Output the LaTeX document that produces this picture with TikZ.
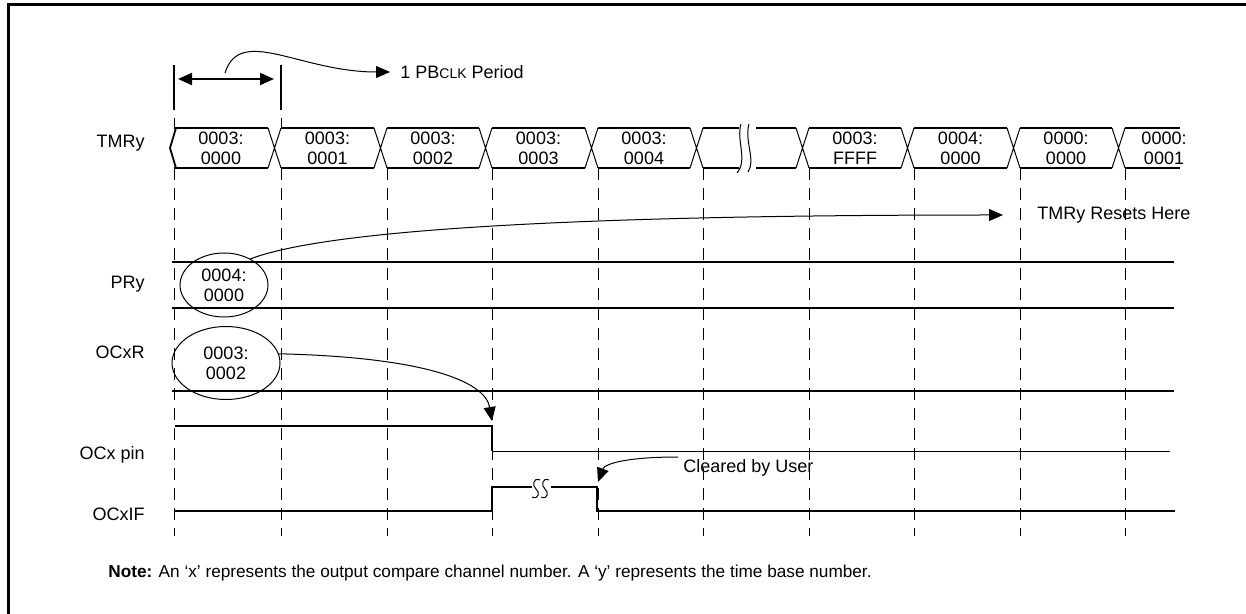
\documentclass[tikz,border=0pt]{standalone}
\usepackage{fontspec}
\setmainfont{Liberation Sans}
\usetikzlibrary{arrows.meta,shapes.geometric}

\begin{document}
\begin{tikzpicture}[x=0.5pt,y=-0.5pt,>={Triangle[length=7pt,width=6pt]},font=\fontsize{9}{10}\selectfont]
\tikzset{
 lbl/.style={anchor=east,inner sep=0pt},
 txt/.style={anchor=west,inner sep=0pt},
 val/.style={align=center,inner sep=0pt},
 sig/.style={line width=1pt},
 bus/.style={line width=0.9pt},
 grid/.style={dash pattern=on 6pt off 4pt,line width=0.5pt},
 oval/.style={draw,ellipse,inner sep=0pt,outer sep=0pt,align=center,line width=0.5pt},
 a/.style={->,line width=0.5pt}
}
\useasboundingbox (0,0) rectangle (1246,614);
% frame
\draw[line width=1.5pt] (8,614) -- (8,5) -- (1246,5);
% time grid
\foreach \x in {174,281,387,492,598,703,809,914,1020,1125}
  \draw[grid] (\x,168) -- (\x,536);
% one clock period
\foreach \x in {174,281}{
  \draw[line width=1pt] (\x,65) -- (\x,110);
  \draw[line width=0.5pt] (\x,118) -- (\x,127);
}
\coordinate (pa) at (178,79);
\coordinate (pb) at (274,79);
\coordinate (pm) at (225,73);
\draw[<->,line width=1pt] (pa) -- (pb);
\node[txt] (pbclk) at (400,72) {1 PB{\fontsize{7}{8}\selectfont CLK} Period};
\draw[a] (pm) .. controls (240,25) and (300,72) .. ([xshift=-5pt]pbclk.west);
% row labels
\node[lbl] (tmr) at (145,143) {TMRy};
\node[lbl] (pr) at (145,284) {PRy};
\node[lbl] (ocr) at (145,352) {OCxR};
\node[lbl] (pin) at (145,455) {OCx pin};
\node[lbl] (flag) at (145,514) {OCxIF};
% TMRy bus
\draw[bus] (176,128) -- (170,148) -- (176,168);
\foreach \a/\b/\hi/\lo [count=\i] in {174/281/0003:/0000,281/387/0003:/0001,387/492/0003:/0002,492/598/0003:/0003,598/703/0003:/0004,809/914/0003:/FFFF,914/1020/0004:/0000,1020/1125/0000:/0000}{
  \draw[bus] (\a,128) -- (\b-13,128) (\a,168) -- (\b-13,168);
  \draw[line width=0.5pt] (\b-13,128) -- (\b,168) (\b-13,168) -- (\b,128);
  \node[val] (v\i) at ({(\a+\b-13)/2},148) {\hi\\\lo};
}
\draw[bus] (703,128) -- (739,128) (756,128) -- (796,128) (703,168) -- (739,168) (756,168) -- (796,168);
\draw[line width=0.5pt] (796,128) -- (809,168) (796,168) -- (809,128);
\draw[line width=0.5pt] (741,124) .. controls (736,140) and (748,160) .. (737,173);
\draw[line width=0.5pt] (749,124) .. controls (744,140) and (756,160) .. (748,172);
\draw[bus] (1125,128) -- (1180,128) (1125,168) -- (1180,168);
\node[val] (v9) at (1164,148) {0000:\\0001};
% PRy and OCxR
\foreach \y in {262,308,391}
  \draw[sig] (172,\y) -- (1174,\y);
\node[oval,minimum width=44pt,minimum height=32pt] (prv) at (224,285) {0004:\\0000};
\node[oval,minimum width=54pt,minimum height=36.5pt] (ocv) at (226,363) {0003:\\0002};
\node[txt] (rst) at (1037,215) {TMRy Resets Here};
\draw[a] (prv.45) .. controls (330,228) and (600,215) .. ([xshift=-17pt]rst.west);
\draw[a] (ocv.10) .. controls (420,357) and (485,380) .. (492,421);
% OCx pin and OCxIF
\draw[sig] (175,426) -- (492,426) -- (492,451);
\draw[line width=0.5pt] (492,451) -- (1170,451);
\draw[sig] (175,511) -- (492,511) -- (492,487) -- (532,487) (551,487) -- (597,487) -- (597,511) -- (1175,511);
\foreach \s in {532,541}
  \draw[line width=0.5pt] (\s+8,480) .. controls (\s+1,477) and (\s,486) .. (\s+4,489) .. controls (\s+8,492) and (\s+7,500) .. (\s,497);
\node[txt] (clr) at (683,468) {Cleared by User};
\coordinate (clrs) at (678,457);
\draw[a] (clrs) .. controls (630,457) and (605,463) .. (598,482);
% note
\node[txt,font=\fontsize{8.6}{10}\selectfont] (note) at (108,573) {\textbf{Note:} An ‘x’ represents the output compare channel number. A ‘y’ represents the time base number.};
\end{tikzpicture}
\end{document}
